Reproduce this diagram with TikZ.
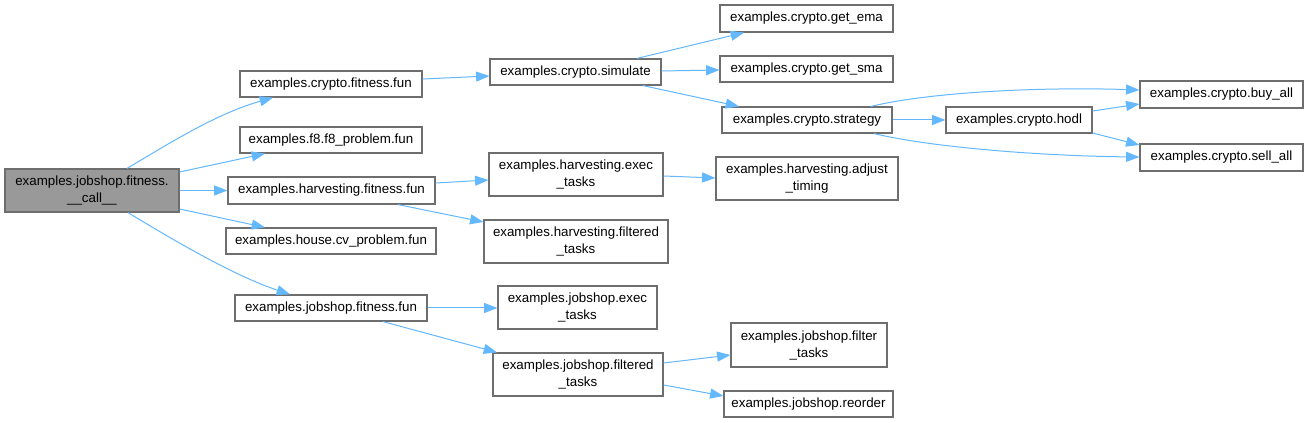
\documentclass[tikz,border=0pt]{standalone}
\usepackage{fontspec}
\setmainfont{Liberation Sans}
\usetikzlibrary{arrows.meta}
\definecolor{edgeblue}{HTML}{63B8FF}
\definecolor{boxgray}{HTML}{6E6E6E}
\definecolor{rootfill}{HTML}{999999}
\newcommand\mkbox[7][]{\node[fnbox,#1,minimum width={(#5-#3)*0.75pt},minimum height={(#6-#4)*0.75pt}] (#2) at ({(#3+#5)/2},{(#4+#6)/2}) {#7};}
\tikzset{
  fnbox/.style={draw=boxgray, fill=white, line width=0.9pt, inner sep=0pt, align=center,
    font=\fontsize{10}{12.75}\selectfont},
  rootbox/.style={fill=rootfill},
  conn/.style={draw=edgeblue, line width=0.75pt, -{Triangle[length=10pt,width=7.5pt]}}
}
\begin{document}
\begin{tikzpicture}[x=0.75pt,y=-0.75pt]
\fill[white] (0,0) rectangle (1306,423);
\useasboundingbox (0,0) rectangle (1306,423);
% nodes
\mkbox[rootbox]{root}{5}{169}{179}{212}{examples.jobshop.fitness.\\\_\_call\_\_}
\mkbox{cf}{240}{71}{422}{97}{examples.crypto.fitness.fun}
\mkbox{f8}{240}{127}{422}{153}{examples.f8.f8\_problem.fun}
\mkbox{hf}{228}{177}{435}{204}{examples.harvesting.fitness.fun}
\mkbox{house}{226}{228}{436}{254}{examples.house.cv\_problem.fun}
\mkbox{jf}{235}{295}{427}{321}{examples.jobshop.fitness.fun}
\mkbox{sim}{490}{59}{661}{85}{examples.crypto.simulate}
\mkbox{hex}{489}{153}{663}{196}{examples.harvesting.exec\\\_tasks}
\mkbox{hfilt}{484}{220}{668}{263}{examples.harvesting.filtered\\\_tasks}
\mkbox{jex}{498}{286}{657}{329}{examples.jobshop.exec\\\_tasks}
\mkbox{jfilt}{493}{353}{663}{396}{examples.jobshop.filtered\\\_tasks}
\mkbox{ema}{720}{5}{893}{32}{examples.crypto.get\_ema}
\mkbox{sma}{720}{56}{893}{82}{examples.crypto.get\_sma}
\mkbox{strat}{722}{107}{892}{133}{examples.crypto.strategy}
\mkbox{adj}{716}{157}{898}{200}{examples.harvesting.adjust\\\_timing}
\mkbox{hodl}{946}{107}{1092}{133}{examples.crypto.hodl}
\mkbox{buy}{1140}{81}{1303}{108}{examples.crypto.buy\_all}
\mkbox{sell}{1140}{144}{1303}{171}{examples.crypto.sell\_all}
\mkbox{ftasks}{731}{323}{887}{367}{examples.jobshop.filter\\\_tasks}
\mkbox{reorder}{724}{391}{893}{417}{examples.jobshop.reorder}
% connectors
\draw[conn] (root.north -| 127,0) .. controls (165,146) and (215,114) .. (cf.south -| 273,0);
\draw[conn] (root.east |- 0,172) -- (f8.south -| 265,0);
\draw[conn] (root.east) -- (hf.west);
\draw[conn] (root.east |- 0,209) -- (house.north -| 265,0);
\draw[conn] (root.south -| 128,0) .. controls (170,238) and (232,275) .. (jf.north -| 290,0);
\draw[conn] (cf.east |- 0,79) -- (sim.west |- 0,76);
\draw[conn] (sim.north -| 637,0) -- (ema.south -| 744,0);
\draw[conn] (sim.east |- 0,71) -- (sma.west |- 0,70);
\draw[conn] (sim.south -| 643,0) -- (strat.north -| 739,0);
\draw[conn] (strat.north -| 871,0) .. controls (935,91) and (1050,87) .. (buy.west |- 0,90);
\draw[conn] (strat.east) -- (hodl.west);
\draw[conn] (strat.south -| 874,0) .. controls (935,148) and (1045,156) .. (sell.west |- 0,157);
\draw[conn] (hodl.east |- 0,111) -- (buy.west |- 0,104);
\draw[conn] (hodl.east |- 0,133) -- (sell.west |- 0,145);
\draw[conn] (hf.east |- 0,183) -- (hex.west |- 0,180);
\draw[conn] (hf.south -| 398,0) -- (hfilt.west |- 0,222);
\draw[conn] (hex.east |- 0,176) -- (adj.west |- 0,178);
\draw[conn] (jf.east) -- (jex.west |- 0,308);
\draw[conn] (jf.south -| 383,0) -- (jfilt.north -| 497,0);
\draw[conn] (jfilt.east |- 0,363) -- (ftasks.west |- 0,355);
\draw[conn] (jfilt.east |- 0,385) -- (reorder.west |- 0,396);
\end{tikzpicture}
\end{document}
